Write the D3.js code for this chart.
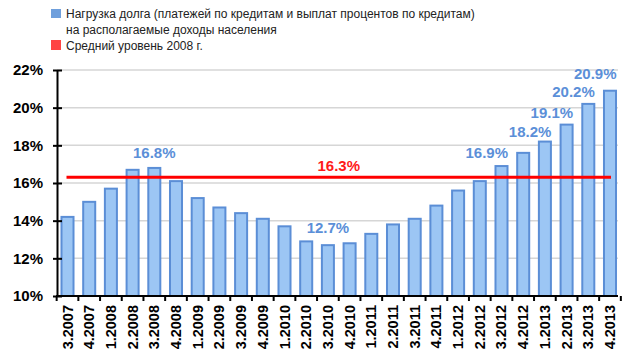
<!DOCTYPE html>
<html><head><meta charset="utf-8">
<script src="https://cdn.jsdelivr.net/npm/d3@7/dist/d3.min.js"></script>
<style>
html,body{margin:0;padding:0;background:#fff;}
svg{display:block;font-family:"Liberation Sans",Arial,sans-serif;}
</style></head>
<body>
<svg id="chart" width="630" height="360"></svg>
<script>
const categories = ["3.2007","4.2007","1.2008","2.2008","3.2008","4.2008","1.2009","2.2009","3.2009","4.2009","1.2010","2.2010","3.2010","4.2010","1.2011","2.2011","3.2011","4.2011","1.2012","2.2012","3.2012","4.2012","1.2013","2.2013","3.2013","4.2013"];
const debtBurden = [14.2,15.0,15.7,16.7,16.8,16.1,15.2,14.7,14.4,14.1,13.7,12.9,12.7,12.8,13.3,13.8,14.1,14.8,15.6,16.1,16.9,17.6,18.2,19.1,20.2,20.9];
const avg2008 = 16.3;
const labelledCategories = ["3.2008","3.2010","3.2012","1.2013","2.2013","3.2013","4.2013"];
const yTicks = [10,12,14,16,18,20,22];
const legendLabels = ["Нагрузка долга (платежей по кредитам и выплат процентов по кредитам)", "на располагаемые доходы населения", "Средний уровень 2008 г."];

// layout: gap (px) between bar top and its value label baseline
const labelGap = {"3.2008": 10, "3.2010": 12, "3.2012": 8, "1.2013": 5, "2.2013": 7, "3.2013": 7, "4.2013": 12};

const svg = d3.select("#chart");
const x = d3.scaleBand().domain(categories).range([57, 620.5]).paddingInner(0.4).paddingOuter(0.184);
const y = d3.scaleLinear().domain([10, 22]).range([296, 70]);
const bw = x.bandwidth(), step = x.step();

// gridlines
svg.append("g").selectAll("line").data(yTicks.slice(1)).join("line")
  .attr("x1", 57).attr("x2", 618).attr("y1", d => y(d)).attr("y2", d => y(d))
  .attr("stroke", "#d6d6d6").attr("stroke-width", 1.5);

// bars
svg.append("g").selectAll("rect").data(debtBurden).join("rect")
  .attr("x", (d, i) => x(categories[i]) + 0.5)
  .attr("y", d => y(d))
  .attr("width", bw - 1)
  .attr("height", d => y(10) - y(d))
  .attr("fill", "#9cc6f4").attr("stroke", "#5b8ed6").attr("stroke-width", 2);

// average line
svg.append("line")
  .attr("x1", x(categories[0]) + bw / 2 - 1)
  .attr("x2", x(categories[categories.length - 1]) + bw / 2 + 1)
  .attr("y1", y(avg2008)).attr("y2", y(avg2008))
  .attr("stroke", "#ff0000").attr("stroke-width", 3);
svg.append("text")
  .attr("x", (x(categories[0]) + x(categories[categories.length - 1]) + bw) / 2)
  .attr("y", y(avg2008) - 6)
  .attr("text-anchor", "middle").attr("font-size", 15).attr("font-weight", "bold")
  .attr("fill", "#ff1a1a").text(avg2008.toFixed(1) + "%");

// value labels
svg.append("g").selectAll("text").data(labelledCategories).join("text")
  .attr("x", c => {
    const i = categories.indexOf(c);
    return i >= 20 ? x(c) + bw : x(c) + bw / 2;
  })
  .attr("y", c => y(debtBurden[categories.indexOf(c)]) - labelGap[c])
  .attr("text-anchor", c => categories.indexOf(c) >= 20 ? "end" : "middle")
  .attr("font-size", 15).attr("font-weight", "bold").attr("fill", "#5b8fd8")
  .text(c => debtBurden[categories.indexOf(c)].toFixed(1) + "%");

// y axis
const yAxis = svg.append("g").attr("transform", "translate(57,0)")
  .call(d3.axisLeft(y).tickValues(yTicks).tickFormat(d => d + "%").tickSizeOuter(0).tickSizeInner(4).tickPadding(10));
yAxis.select(".domain").attr("stroke", "#000").attr("stroke-width", 2);
yAxis.selectAll(".tick line").attr("x1", 5).attr("x2", -4).attr("stroke", "#000").attr("stroke-width", 2);
yAxis.selectAll(".tick text").attr("font-size", 15).attr("font-weight", "bold").attr("fill", "#000")
  .attr("font-family", "Liberation Sans, Arial, sans-serif");

// x axis
svg.append("line").attr("x1", 56).attr("x2", 618).attr("y1", y(10)).attr("y2", y(10))
  .attr("stroke", "#000").attr("stroke-width", 2);
svg.append("g").selectAll("line").data(categories.concat(["end"])).join("line")
  .attr("x1", (c, i) => x(categories[0]) + bw / 2 - step / 2 + i * step)
  .attr("x2", (c, i) => x(categories[0]) + bw / 2 - step / 2 + i * step)
  .attr("y1", y(10)).attr("y2", y(10) + 5)
  .attr("stroke", "#000").attr("stroke-width", 2);
svg.append("g").selectAll("text").data(categories).join("text")
  .attr("transform", c => `translate(${x(c) + bw / 2 + 5},305) rotate(-90)`)
  .attr("text-anchor", "end").attr("font-size", 14.5).attr("font-weight", "bold").attr("fill", "#000")
  .text(c => c);

// legend
const lg = svg.append("g");
lg.append("rect").attr("x", 51).attr("y", 9).attr("width", 10).attr("height", 9).attr("fill", "#6f9fdc");
lg.append("rect").attr("x", 51).attr("y", 40).attr("width", 10).attr("height", 10).attr("fill", "#ff4444");
lg.selectAll("text").data(legendLabels).join("text")
  .attr("x", 66).attr("y", (d, i) => [18, 34, 50][i])
  .attr("font-size", 12).attr("fill", "#222").text(d => d);
</script>
</body></html>
